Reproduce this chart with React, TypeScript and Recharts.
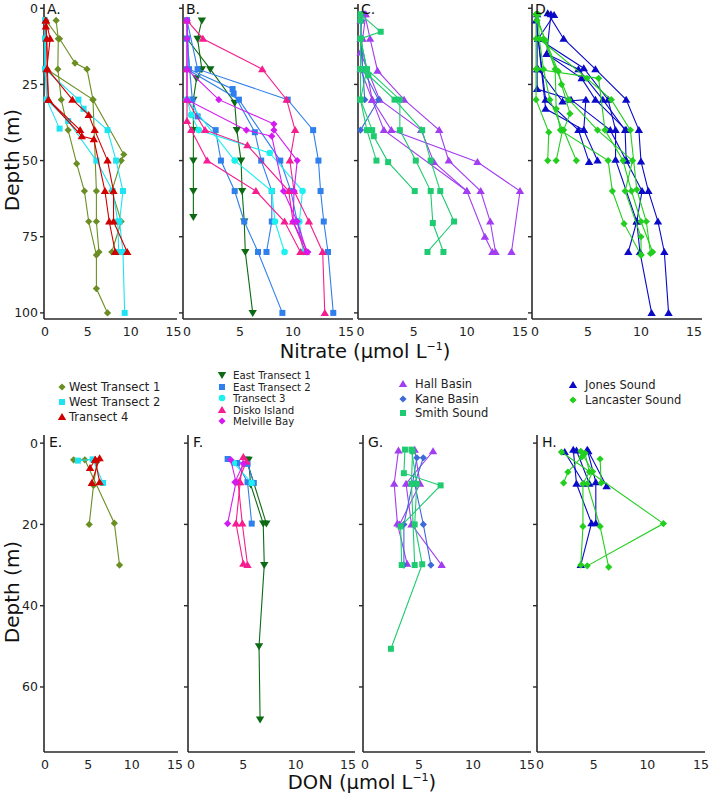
import React from 'react';
import { ScatterChart, Scatter, XAxis, YAxis } from 'recharts';

// each profile is a list of [concentration (µmol/L), depth (m)]
type Pt = [number, number];
type Kind = 'diamond' | 'square' | 'triangle' | 'down' | 'circle';

const FONT = 'DejaVu Sans, Verdana, sans-serif';

// ---------- Nitrate profiles ----------
// A. West Transect 1 / West Transect 2 / Transect 4
const nWestT1a: Pt[] = [[1.3, 4], [1.55, 10], [1.5, 20], [1.9, 30], [2.7, 40], [3.7, 51], [4.6, 60], [5.1, 70], [6.0, 81], [6.0, 92], [7.3, 100]];
const nWestT1b: Pt[] = [[0.1, 4], [1.7, 10], [3.5, 18], [4.9, 20], [5.6, 30], [6.0, 60], [6.0, 70], [6.3, 80]];
const nWestT1c: Pt[] = [[0.2, 20], [5.6, 30], [9.2, 48], [8.9, 50], [7.8, 60], [8.9, 70], [7.8, 80]];
const nWestT2a: Pt[] = [[0, 4], [0, 10], [0, 20], [0.2, 30], [1.7, 39.5]];
const nWestT2b: Pt[] = [[0, 4], [0, 20], [3.9, 30], [4.5, 33], [7.3, 40], [8.3, 50], [9.1, 60], [8.7, 70], [9.1, 80], [9.3, 100]];
const nWestT2c: Pt[] = [[0, 10], [0.2, 30], [2.7, 37], [6.0, 50], [7.9, 60], [8.5, 70], [8.6, 80]];
const nT4a: Pt[] = [[0.1, 4], [0.6, 10], [0.2, 20], [0.4, 30], [4.3, 42], [5.7, 43], [7.0, 60], [7.5, 70], [8.2, 80]];
const nT4b: Pt[] = [[0.1, 6], [0.2, 10], [0.3, 20], [3.2, 30], [5.1, 35], [5.8, 40], [7.3, 50], [8.0, 60], [8.0, 70], [9.6, 80]];
const nT4c: Pt[] = [[0.1, 4], [0.4, 30], [4.1, 40]];

// B. East Transect 1 / East Transect 2 / Transect 3 / Disko Island / Melville Bay
const nEastT1a: Pt[] = [[1.4, 4], [1.0, 10], [1.4, 20], [0.9, 23], [0.6, 30], [0.6, 40], [0.6, 50], [0.6, 60], [0.6, 68.5]];
const nEastT1b: Pt[] = [[0, 10], [2.2, 20], [4.5, 31], [4.7, 40], [5.1, 50], [5.2, 60], [5.4, 70], [5.5, 80], [6.2, 100]];
const nEastT2a: Pt[] = [[0, 4], [1.0, 20], [9.5, 30], [11.9, 40], [12.4, 50], [12.6, 60], [12.9, 70], [13.3, 80], [13.8, 100]];
const nEastT2b: Pt[] = [[0, 4], [0.2, 20], [4.3, 26.5], [4.4, 28], [6.4, 40.7], [7.0, 50], [8.0, 60], [8.0, 70], [7.5, 80]];
const nEastT2c: Pt[] = [[0, 10], [0.5, 30], [1.0, 35.5], [2.7, 40], [3.2, 50], [4.5, 60], [5.4, 70], [6.7, 80], [9.0, 100]];
const nEastT2d: Pt[] = [[0, 20], [4.9, 30], [8.8, 50], [9.8, 60], [10.4, 70], [11.0, 80]];
const nT3a: Pt[] = [[0, 30], [0.4, 35], [1.1, 40], [7.8, 47.5], [10.9, 60], [10.6, 70], [11.0, 80]];
const nT3b: Pt[] = [[0, 30], [4.5, 50], [8.0, 60], [8.3, 70], [9.2, 80]];
const nDiskoA: Pt[] = [[0, 4], [1.5, 10], [7.1, 20], [9.4, 30], [10.2, 40], [9.7, 50], [10.1, 60], [11.5, 70], [12.8, 80], [13.0, 100]];
const nDiskoB: Pt[] = [[0, 30], [0, 37], [0.4, 40], [1.9, 50], [6.5, 60], [9.2, 70], [10.7, 80]];
const nDiskoC: Pt[] = [[0, 20], [0, 30], [1.7, 40], [5.7, 45], [9.6, 60], [10.0, 70], [11.2, 80]];
const nMelvA: Pt[] = [[0, 4], [0, 10], [0, 20], [3.0, 30], [8.2, 38], [8.2, 40], [10.4, 50], [10.1, 60], [10.0, 70], [11.4, 80]];
const nMelvB: Pt[] = [[0, 4], [0, 30], [5.6, 40], [8.0, 42], [9.1, 60], [10.4, 70], [11.3, 80]];

// C. Hall Basin / Kane Basin / Smith Sound
const nHallA: Pt[] = [[0.4, 2], [0.9, 10], [1.6, 20.5], [4.1, 30], [7.4, 40], [8.3, 50], [11.3, 60], [12.2, 70], [12.7, 80]];
const nHallB: Pt[] = [[0.5, 2], [0.2, 10], [0, 14.5], [1.8, 30], [5.7, 40], [6.9, 50.5], [10.0, 60], [11.7, 75], [12.4, 80]];
const nHallC: Pt[] = [[0, 4], [0, 10], [1.1, 30], [2.9, 40], [11.0, 50.5], [15.0, 60], [14.2, 80]];
const nHallD: Pt[] = [[0, 20], [1.1, 30], [2.2, 40], [10.0, 60]];
const nKaneA: Pt[] = [[0.1, 2], [0.1, 4], [0, 10], [0.2, 20], [1.7, 30], [0, 40]];
const nKaneB: Pt[] = [[0, 4], [0.2, 20], [0.4, 30]];
const nSmithA: Pt[] = [[0, 2], [1.9, 7.7], [0, 10], [0.6, 20], [0, 30], [0.6, 40], [1.5, 50]];
const nSmithB: Pt[] = [[0, 4], [0, 20], [0.75, 22], [3.2, 30], [5.8, 40], [6.6, 50], [7.5, 60], [8.8, 70], [6.3, 80]];
const nSmithC: Pt[] = [[0, 10], [0.6, 20], [3.7, 30], [3.7, 40], [5.2, 50], [6.6, 60], [6.8, 70.5], [7.8, 80]];
const nSmithD: Pt[] = [[0, 20], [0, 30], [1.1, 40], [1.25, 42], [2.6, 50.5], [5.1, 60]];

// D. Jones Sound / Lancaster Sound
const nJonesA: Pt[] = [[1.2, 1.6], [2.7, 10], [5.7, 20], [8.6, 30], [9.8, 40], [10.0, 50.3], [10.7, 60], [11.6, 70], [12.2, 80], [12.6, 100]];
const nJonesB: Pt[] = [[1.5, 2], [1.1, 15], [4.1, 20], [6.4, 30], [8.5, 40], [8.6, 50], [10.1, 60], [9.6, 70], [9.9, 80], [11.0, 100]];
const nJonesC: Pt[] = [[1.8, 2.2], [0.3, 10], [4.6, 19.7], [6.9, 30], [7.6, 40], [7.6, 49.7], [9.6, 70], [8.8, 80]];
const nJonesD: Pt[] = [[0.2, 2], [0.2, 20], [0.2, 26.5], [3.4, 30], [7.1, 40], [8.6, 50]];
const nJonesE: Pt[] = [[0.1, 4], [1.0, 30], [4.1, 40], [5.1, 50.5]];
const nJonesF: Pt[] = [[0.3, 10], [1.0, 33], [4.6, 40], [5.9, 50]];
const nJonesG: Pt[] = [[1.1, 15], [4.4, 23], [5.7, 30], [8.6, 40]];
const nJonesH: Pt[] = [[0.3, 20], [2.6, 30.6], [4.8, 30], [4.6, 40]];
const nLancA: Pt[] = [[0.1, 2], [0.1, 10], [0.1, 20], [0.1, 30], [1.3, 40.7], [1.2, 50]];
const nLancB: Pt[] = [[0.3, 2], [0.4, 10], [0.8, 20], [1.4, 30], [2.6, 40], [2.0, 50]];
const nLancC: Pt[] = [[0.2, 4], [1.0, 10.6], [2.2, 20.7], [2.5, 25], [3.3, 34.6], [2.7, 40], [3.9, 50]];
const nLancD: Pt[] = [[0.1, 2], [1.9, 20], [2.0, 33], [2.4, 40], [6.9, 50], [7.3, 60], [8.4, 70.7], [10.0, 81]];
const nLancE: Pt[] = [[0.4, 10], [4.9, 23], [7.2, 30], [9.0, 40], [9.6, 59.5], [10.5, 70], [10.9, 80.5]];
const nLancF: Pt[] = [[0.2, 20], [6.0, 23], [6.6, 40], [8.3, 50], [9.1, 60], [10.0, 70], [11.1, 80]];
const nLancG: Pt[] = [[0.8, 10], [3.2, 30], [5.9, 40], [9.2, 50], [8.5, 60], [10.0, 75], [10.0, 81]];

// ---------- DON profiles ----------
const dWestT1a: Pt[] = [[3.3, 4.1], [4.6, 4.1], [8.0, 19.7], [8.6, 30]];
const dWestT1b: Pt[] = [[6.0, 4.5], [5.6, 10.4], [5.1, 20]];
const dWestT2a: Pt[] = [[3.8, 4.3], [5.5, 4], [6.7, 9.8]];
const dT4a: Pt[] = [[5.8, 4.1], [6.3, 9.6]];
const dT4b: Pt[] = [[6.3, 3.7], [5.4, 9.8]];
const dT4c: Pt[] = [[5.8, 4.1], [5.2, 6.1]];

const dEastT1a: Pt[] = [[5.5, 4.1], [5.7, 10.2], [6.9, 19.8], [7.0, 30], [6.5, 50], [6.6, 68]];
const dEastT1b: Pt[] = [[5.3, 4], [7.2, 19.8]];
const dEastT2a: Pt[] = [[3.5, 3.9], [5.4, 5.1], [6.0, 9.8]];
const dEastT2b: Pt[] = [[4.4, 4.9], [5.4, 9.6], [5.8, 19.8]];
const dT3a: Pt[] = [[4.1, 4.9], [5.8, 9.8]];
const dDiskoA: Pt[] = [[5.0, 3.4], [4.7, 9.6], [4.3, 19.8], [5.0, 29.7]];
const dDiskoB: Pt[] = [[5.3, 4.5], [4.5, 9.6], [4.9, 19.8], [5.4, 30]];
const dMelvA: Pt[] = [[3.8, 4.1], [4.3, 9.6], [3.5, 19.8]];
const dMelvB: Pt[] = [[5.0, 5.1], [4.2, 9.6]];

const dHallA: Pt[] = [[3.1, 1.8], [2.7, 10], [3.0, 19.8], [3.9, 29.7]];
const dHallB: Pt[] = [[6.3, 2], [3.8, 10], [4.3, 20], [7.1, 30]];
const dHallC: Pt[] = [[4.6, 1.6], [5.1, 10], [3.2, 20]];
const dKaneA: Pt[] = [[5.4, 3.6], [4.6, 10], [5.4, 20], [6.1, 30]];
const dKaneB: Pt[] = [[4.8, 3.6], [4.4, 10], [3.6, 20], [3.6, 30]];
const dSmithA: Pt[] = [[3.7, 1.6], [3.6, 7.4], [7.0, 10.4], [3.3, 20.5], [3.4, 30]];
const dSmithB: Pt[] = [[4.3, 1.6], [4.8, 10], [4.6, 20], [5.3, 29.8], [2.4, 50.6]];
const dSmithC: Pt[] = [[4.4, 2], [4.3, 10], [4.6, 30]];

const dJonesA: Pt[] = [[3.1, 1.6], [3.4, 10], [4.8, 19.7], [3.8, 30]];
const dJonesB: Pt[] = [[4.4, 1.6], [5.2, 9.6], [5.2, 19.7]];
const dJonesC: Pt[] = [[2.3, 2.2], [4.1, 10]];
const dJonesD: Pt[] = [[4.5, 2], [6.2, 10.6]];
const dJonesE: Pt[] = [[3.4, 1.8], [4.6, 10]];
const dLancA: Pt[] = [[2.0, 2.2], [11.5, 19.8], [4.4, 30.2]];
const dLancB: Pt[] = [[3.9, 3.4], [2.6, 7.1], [2.2, 9.8]];
const dLancC: Pt[] = [[5.6, 3.9], [5.7, 9.8]];
const dLancD: Pt[] = [[4.2, 2.5], [4.6, 7.1], [4.0, 10], [4.0, 20.5], [3.8, 30]];
const dLancE: Pt[] = [[3.8, 2], [4.9, 7], [4.4, 10], [5.6, 20.5], [6.4, 30.5]];

// ---------- groups ----------
type Group = { name: string; kind: Kind; color: string; nitrate: Pt[][]; don: Pt[][] };

const groupsA: Group[] = [
  { name: 'West Transect 1', kind: 'diamond', color: '#6b8e23', nitrate: [nWestT1a, nWestT1b, nWestT1c], don: [dWestT1a, dWestT1b] },
  { name: 'West Transect 2', kind: 'square', color: '#1ee3f2', nitrate: [nWestT2a, nWestT2b, nWestT2c], don: [dWestT2a] },
  { name: 'Transect 4', kind: 'triangle', color: '#d00000', nitrate: [nT4a, nT4b, nT4c], don: [dT4a, dT4b, dT4c] },
];
const groupsB: Group[] = [
  { name: 'East Transect 1', kind: 'down', color: '#0c6a14', nitrate: [nEastT1a, nEastT1b], don: [dEastT1a, dEastT1b] },
  { name: 'East Transect 2', kind: 'square', color: '#2f7fec', nitrate: [nEastT2a, nEastT2b, nEastT2c, nEastT2d], don: [dEastT2a, dEastT2b] },
  { name: 'Transect 3', kind: 'circle', color: '#1ef0f0', nitrate: [nT3a, nT3b], don: [dT3a] },
  { name: 'Disko Island', kind: 'triangle', color: '#f51d8f', nitrate: [nDiskoA, nDiskoB, nDiskoC], don: [dDiskoA, dDiskoB] },
  { name: 'Melville Bay', kind: 'diamond', color: '#d41af0', nitrate: [nMelvA, nMelvB], don: [dMelvA, dMelvB] },
];
const groupsC: Group[] = [
  { name: 'Hall Basin', kind: 'triangle', color: '#a23df0', nitrate: [nHallA, nHallB, nHallC, nHallD], don: [dHallA, dHallB, dHallC] },
  { name: 'Kane Basin', kind: 'diamond', color: '#3e6ad8', nitrate: [nKaneA, nKaneB], don: [dKaneA, dKaneB] },
  { name: 'Smith Sound', kind: 'square', color: '#1ecb70', nitrate: [nSmithA, nSmithB, nSmithC, nSmithD], don: [dSmithA, dSmithB, dSmithC] },
];
const groupsD: Group[] = [
  { name: 'Jones Sound', kind: 'triangle', color: '#0a0ac8', nitrate: [nJonesA, nJonesB, nJonesC, nJonesD, nJonesE, nJonesF, nJonesG, nJonesH], don: [dJonesA, dJonesB, dJonesC, dJonesD, dJonesE] },
  { name: 'Lancaster Sound', kind: 'diamond', color: '#22cf1e', nitrate: [nLancA, nLancB, nLancC, nLancD, nLancE, nLancF, nLancG], don: [dLancA, dLancB, dLancC, dLancD, dLancE] },
];

const xTicks = [0, 5, 10, 15];
const nitrateDepthTicks = [0, 25, 50, 75, 100];
const donDepthTicks = [0, 20, 40, 60];

function marker(kind: Kind, cx: number, cy: number, color: string) {
  if (cx == null || cy == null) return <g />;
  switch (kind) {
    case 'diamond':
      return <polygon points={`${cx},${cy - 3.6} ${cx + 3.6},${cy} ${cx},${cy + 3.6} ${cx - 3.6},${cy}`} fill={color} />;
    case 'square':
      return <rect x={cx - 3} y={cy - 3} width={6} height={6} fill={color} />;
    case 'triangle':
      return <polygon points={`${cx},${cy - 4} ${cx + 4.2},${cy + 3} ${cx - 4.2},${cy + 3}`} fill={color} />;
    case 'down':
      return <polygon points={`${cx - 4.2},${cy - 3} ${cx + 4.2},${cy - 3} ${cx},${cy + 4}`} fill={color} />;
    default:
      return <circle cx={cx} cy={cy} r={3.3} fill={color} />;
  }
}

type Geo = { left: number; right: number; x0: number; x15: number };

type PanelProps = {
  geo: Geo;
  plotTop: number;
  plotBottom: number;
  yAxisW: number;
  yDomain: [number, number];
  yTicks: number[];
  yLabels: boolean;
  groups: Group[];
  field: 'nitrate' | 'don';
};

const PAD_T = 10;
const PAD_R = 12;

function Panel(p: PanelProps) {
  const { left, right, x0, x15 } = p.geo;
  const ppu = (x15 - x0) / 15;
  const xDomain: [number, number] = [(left - x0) / ppu, (right - x0) / ppu];
  const w = p.yAxisW + (right - left) + PAD_R;
  const xH = 30;
  const h = PAD_T + (p.plotBottom - p.plotTop) + xH;
  const tick = { fontSize: 12.5, fill: '#222', fontFamily: FONT };
  return (
    <div style={{ position: 'absolute', left: left - p.yAxisW, top: p.plotTop - PAD_T }}>
      <ScatterChart width={w} height={h} margin={{ top: PAD_T, right: PAD_R, bottom: 0, left: 0 }}>
        <XAxis
          type="number"
          dataKey="v"
          domain={xDomain}
          ticks={xTicks}
          height={xH}
          tickLine={false}
          axisLine={{ stroke: '#2a2a2a', strokeWidth: 1.6 }}
          tick={tick}
          interval={0}
        />
        <YAxis
          type="number"
          dataKey="d"
          reversed
          domain={p.yDomain}
          ticks={p.yTicks}
          width={p.yAxisW}
          tickSize={4}
          tickLine={{ stroke: '#2a2a2a', strokeWidth: 1.4 }}
          axisLine={{ stroke: '#2a2a2a', strokeWidth: 1.6 }}
          tick={tick}
          tickFormatter={p.yLabels ? (v: number) => String(v) : () => ''}
          interval={0}
        />
        {p.groups.flatMap((g, gi) =>
          g[p.field].map((prof, pi) => (
            <Scatter
              key={`${gi}-${pi}`}
              data={prof.map(([v, d]) => ({ v, d }))}
              fill={g.color}
              line={{ stroke: g.color, strokeWidth: 1.1 }}
              shape={(s: any) => marker(g.kind, s.cx, s.cy, g.color)}
              isAnimationActive={false}
            />
          ))
        )}
      </ScatterChart>
    </div>
  );
}

const TOP = { top: 4, bottom: 319, y: [-1.4, 102] as [number, number] };
const BOT = { top: 435, bottom: 752, y: [-2, 76] as [number, number] };

const topCols: Geo[] = [
  { left: 44, right: 177, x0: 45, x15: 173.5 },
  { left: 183, right: 353, x0: 187, x15: 346 },
  { left: 358, right: 527, x0: 360.5, x15: 520 },
  { left: 532, right: 702, x0: 535, x15: 694 },
];
const botCols: Geo[] = [
  { left: 44, right: 178, x0: 45, x15: 175 },
  { left: 188, right: 355, x0: 191, x15: 348 },
  { left: 363, right: 531, x0: 365, x15: 527 },
  { left: 537, right: 705, x0: 540, x15: 701 },
];
const letters = [['A.', 'E.'], ['B.', 'F.'], ['C.', 'G.'], ['D.', 'H.']];
const colGroups = [groupsA, groupsB, groupsC, groupsD];

function Legend() {
  const cols = [
    { x: 62, tx: 69, ys: [387, 402, 417], fs: 11.5 },
    { x: 222, tx: 233, ys: [375, 387, 398, 410, 421], fs: 10.2 },
    { x: 403, tx: 415, ys: [384, 399, 413], fs: 11.5 },
    { x: 573, tx: 585, ys: [385, 400], fs: 11.5 },
  ];
  return (
    <g>
      {cols.map((c, ci) =>
        colGroups[ci].map((g, i) => (
          <g key={`${ci}-${i}`}>
            {marker(g.kind, c.x, c.ys[i], g.color)}
            <text x={c.tx} y={c.ys[i] + 4} fontSize={c.fs} fill="#222" fontFamily={FONT}>
              {g.name}
            </text>
          </g>
        ))
      )}
    </g>
  );
}

function Unit({ label, x, y }: { label: string; x: number; y: number }) {
  return (
    <text x={x} y={y} textAnchor="middle" fontSize={19.5} fill="#111" fontFamily={FONT}>
      {label} (µmol L
      <tspan dy={-8} fontSize={11}>−1</tspan>
      <tspan dy={8}>)</tspan>
    </text>
  );
}

export default function App() {
  return (
    <div style={{ position: 'absolute', left: 0, top: 0, width: 709, height: 793, background: '#fff', fontFamily: FONT }}>
      {colGroups.map((groups, i) => (
        <React.Fragment key={i}>
          <Panel
            geo={topCols[i]}
            plotTop={TOP.top}
            plotBottom={TOP.bottom}
            yAxisW={i === 0 ? 44 : 8}
            yDomain={TOP.y}
            yTicks={nitrateDepthTicks}
            yLabels={i === 0}
            groups={groups}
            field="nitrate"
          />
          <Panel
            geo={botCols[i]}
            plotTop={BOT.top}
            plotBottom={BOT.bottom}
            yAxisW={i === 0 ? 44 : 8}
            yDomain={BOT.y}
            yTicks={donDepthTicks}
            yLabels={i === 0}
            groups={groups}
            field="don"
          />
        </React.Fragment>
      ))}
      <svg width={709} height={793} style={{ position: 'absolute', left: 0, top: 0, pointerEvents: 'none' }}>
        {letters.map((l, i) => (
          <g key={i}>
            <text x={topCols[i].left + 3} y={14} fontSize={14} fill="#111" fontFamily={FONT}>{l[0]}</text>
            <text x={botCols[i].left + 5} y={447} fontSize={14} fill="#111" fontFamily={FONT}>{l[1]}</text>
          </g>
        ))}
        <text transform="translate(19,160) rotate(-90)" textAnchor="middle" fontSize={20} fill="#111" fontFamily={FONT}>Depth (m)</text>
        <text transform="translate(19,592) rotate(-90)" textAnchor="middle" fontSize={20} fill="#111" fontFamily={FONT}>Depth (m)</text>
        <Unit label="Nitrate" x={365} y={358} />
        <Unit label="DON" x={362} y={789} />
        <Legend />
      </svg>
    </div>
  );
}
